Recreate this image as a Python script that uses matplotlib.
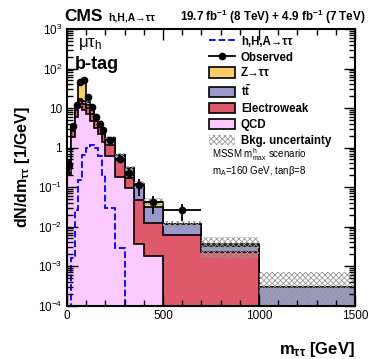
import numpy as np
import matplotlib
matplotlib.use('Agg')
from matplotlib import pyplot as plt
from matplotlib.patches import Patch
from matplotlib.lines import Line2D
from matplotlib.ticker import MultipleLocator, LogLocator, FuncFormatter

plt.rcParams['font.family'] = ['Liberation Sans', 'DejaVu Sans']
plt.rcParams['mathtext.fontset'] = 'custom'
plt.rcParams['mathtext.rm'] = 'Liberation Sans'
plt.rcParams['mathtext.default'] = 'regular'
plt.rcParams['hatch.linewidth'] = 0.6

# m_tautau binning (GeV) and per-bin densities [1/GeV]
edges = [0, 20, 40, 60, 80, 100, 120, 140, 160, 180, 200, 250, 300, 350, 400, 500, 700, 1000, 1500]
qcd = [0.22, 1.8, 6.0, 10.5, 9.0, 7.0, 4.8, 3.2, 2.2, 1.4, 0.6, 0.18, 0.095, 0.0037, 0.0018, 0, 0, 0]
ewk = [0.08, 0.9, 3.0, 4.5, 4.0, 3.3, 2.4, 1.6, 1.1, 0.75, 0.55, 0.30, 0.07, 0.043, 0.0102, 0.006, 0.0022, 0]
ttbar = [0.03, 0.5, 1.5, 1.8, 1.8, 1.8, 1.5, 1.2, 0.9, 0.7, 0.58, 0.16, 0.13, 0.062, 0.020, 0.0055, 0.0011, 0.00029]
ztt = [0.01, 0.3, 0.8, 26, 30, 2.5, 0.6, 0.3, 0.15, 0.1, 0.05, 0.01, 0.005, 0.01, 0.011, 0.0002, 0.0003, 0.00001]
bkg_unc = [0.3, 0.12, 0.1, 0.08, 0.08, 0.1, 0.1, 0.1, 0.12, 0.12, 0.12, 0.15, 0.15, 0.2, 0.2, 0.15, 0.55, 1.3]
signal = [0, 0.0016, 0.026, 0.15, 0.64, 0.95, 1.15, 1.0, 0.6, 0.2, 0.029, 0.0029, 0, 0, 0, 0, 0, 0]
observed = [0.36, 3.6, 12, 45, 52, 19, 10.4, 6.0, 3.9, 2.8, 1.55, 0.50, 0.23, 0.11, 0.041, 0.026, np.nan, np.nan]
obs_err = [0.15, 0.45, 0.8, 1.5, 1.6, 1.0, 0.7, 0.55, 0.45, 0.37, 0.18, 0.1, 0.07, 0.05, 0.02, 0.012, 0, 0]

c_ztt = '#F8CE68'
c_tt = '#9B98CC'
c_ewk = '#DE5A6A'
c_qcd = '#FACAFF'

edges = np.array(edges, dtype=float)
floor = 1e-6
s_qcd = np.array(qcd)
s_ewk = s_qcd + np.array(ewk)
s_tt = s_ewk + np.array(ttbar)
s_tot = s_tt + np.array(ztt)

fig = plt.figure(figsize=(3.74, 3.59), dpi=100)
ax = fig.add_axes([0.179, 0.149, 0.77, 0.77])

for vals, col in [(s_tot, c_ztt), (s_tt, c_tt), (s_ewk, c_ewk), (s_qcd, c_qcd)]:
    ax.stairs(np.clip(vals, floor, None), edges, baseline=floor, fill=True,
              facecolor=col, edgecolor='none')
    ax.stairs(np.clip(vals, floor, None), edges, baseline=floor, color='k', lw=1.2)

unc = np.array(bkg_unc)
ax.stairs(s_tot * (1 + unc), edges, baseline=np.clip(s_tot * (1 - unc), floor, None),
          fill=True, facecolor='none', edgecolor='#999999', hatch='xxxxxx', lw=0)

ax.stairs(np.clip(signal, 1e-4, None), edges, baseline=1e-4, color='#0000FF', ls='--', lw=1.3)

centers = 0.5 * (edges[1:] + edges[:-1])
halfw = 0.5 * (edges[1:] - edges[:-1])
ax.errorbar(centers, observed, yerr=obs_err, xerr=halfw, fmt='o', color='k',
            ms=4.5, elinewidth=1.3, capsize=0)

ax.set_yscale('log')
ax.set_xlim(0, 1500)
ax.set_ylim(1e-4, 1e3)
ax.xaxis.set_major_locator(MultipleLocator(500))
ax.xaxis.set_minor_locator(MultipleLocator(100))
ax.yaxis.set_major_locator(LogLocator(base=10, numticks=12))
ax.yaxis.set_minor_locator(LogLocator(base=10, subs=np.arange(2, 10), numticks=12))


def ylab(v, pos):
    e = int(round(np.log10(v)))
    if e == 0:
        return '1'
    if e == 1:
        return '10'
    return '10$^{%d}$' % e


ax.yaxis.set_major_formatter(FuncFormatter(ylab))
ax.tick_params(which='both', direction='in', top=True, right=True, labelsize=8.5, width=1)
ax.tick_params(which='major', length=8)
ax.tick_params(which='minor', length=4)
for sp in ax.spines.values():
    sp.set_linewidth(1.5)

ax.set_ylabel('dN/dm$_{ττ}$ [1/GeV]', fontsize=11.5, fontweight='bold', labelpad=4)
ax.set_xlabel('m$_{ττ}$ [GeV]', fontsize=12, fontweight='bold', loc='right', labelpad=13)

fig.text(64 / 374, 1 - 21 / 359, 'CMS', fontsize=12.5, fontweight='bold')
fig.text(108 / 374, 1 - 21 / 359, 'h,H,A→ττ', fontsize=7.5, fontweight='bold')
fig.text(365 / 374, 1 - 21 / 359, '19.7 fb$^{-1}$ (8 TeV) + 4.9 fb$^{-1}$ (7 TeV)',
         fontsize=8.4, fontweight='bold', ha='right')

ax.text(0.04, 0.935, 'μτ$_{h}$', transform=ax.transAxes, fontsize=12)
ax.text(0.028, 0.855, 'b-tag', transform=ax.transAxes, fontsize=13, fontweight='bold')
ax.text(0.505, 0.535, 'MSSM m$^{h}_{max}$ scenario', transform=ax.transAxes, fontsize=7)
ax.text(0.505, 0.475, 'm$_{A}$=160 GeV, tanβ=8', transform=ax.transAxes, fontsize=7)

handles = [
    Line2D([], [], color='#0000FF', ls='--', lw=1.3),
    Line2D([], [], color='k', marker='o', ms=4.5, lw=1.3),
    Patch(facecolor=c_ztt, edgecolor='k', lw=1.2),
    Patch(facecolor=c_tt, edgecolor='k', lw=1.2),
    Patch(facecolor=c_ewk, edgecolor='k', lw=1.2),
    Patch(facecolor=c_qcd, edgecolor='k', lw=1.2),
    Patch(facecolor='white', edgecolor='#999999', hatch='xxxxxx', lw=0),
]
labels = ['h,H,A→ττ', 'Observed', 'Z→ττ', 't$\\bar{t}$', 'Electroweak', 'QCD', 'Bkg. uncertainty']
ax.legend(handles, labels, loc='upper left', bbox_to_anchor=(0.46, 1.01), frameon=False,
          prop={'size': 8.3, 'weight': 'bold'}, handlelength=2.3, handleheight=1.0,
          labelspacing=0.33, handletextpad=0.5, borderpad=0.3)

fig.savefig('out.png', dpi=100)
